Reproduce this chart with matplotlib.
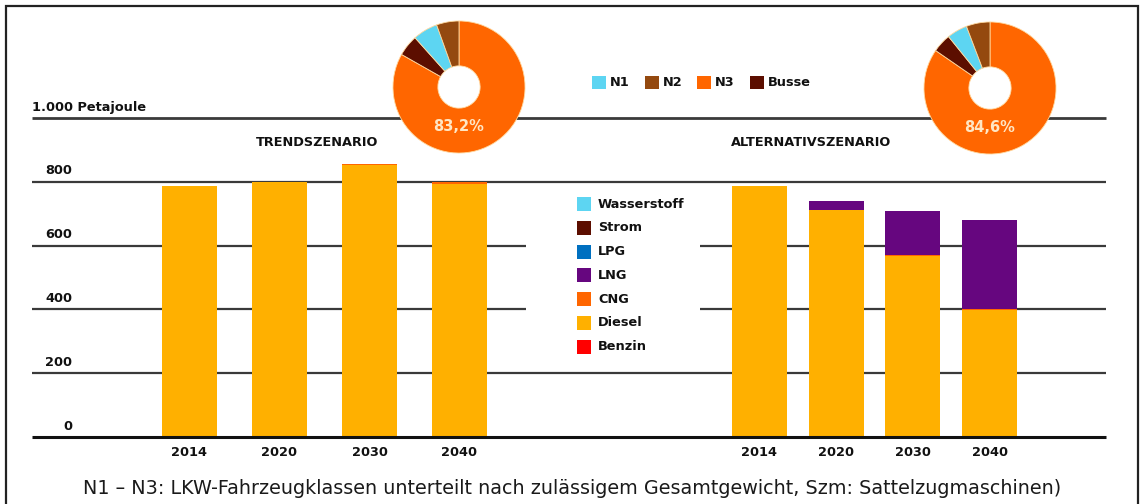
import matplotlib
matplotlib.use("Agg")
import matplotlib.pyplot as plt
from matplotlib.patches import Rectangle
import numpy as np

# ---------------- data ----------------
years = ["2014", "2020", "2030", "2040"]
fuels = ["Benzin", "Diesel", "CNG", "LNG", "LPG", "Strom", "Wasserstoff"]
fuel_colors = ["#FF0000", "#FFB000", "#FF6600", "#66067F", "#0070C0", "#5C0E00", "#5DD5F2"]

trend_benzin = [0, 0, 0, 0]
trend_diesel = [786, 799, 852, 792]
trend_cng = [0, 1, 3, 8]
trend_lng = [0, 0, 0, 0]
trend_lpg = [0, 0, 0, 0]
trend_strom = [0, 0, 0, 0]
trend_h2 = [0, 0, 0, 0]

alt_benzin = [0, 0, 0, 0]
alt_diesel = [786, 712, 568, 399]
alt_cng = [0, 0, 1, 2]
alt_lng = [0, 29, 140, 278]
alt_lpg = [0, 0, 0, 0]
alt_strom = [0, 0, 1, 2]
alt_h2 = [0, 0, 0, 0]

classes = ["N3", "Busse", "N1", "N2"]
class_colors = ["#FF6600", "#5C0E00", "#5DD5F2", "#94490F"]
trend_shares = [83.2, 5.2, 6.1, 5.5]
alt_shares = [84.6, 4.6, 5.0, 5.8]
trend_label = "83,2%"
alt_label = "84,6%"

yticks = [0, 200, 400, 600, 800]
ytick_labels = ["0", "200", "400", "600", "800"]
top_label = "1.000 Petajoule"
title_trend = "TRENDSZENARIO"
title_alt = "ALTERNATIVSZENARIO"
legend_top = ["N1", "N2", "N3", "Busse"]
legend_top_colors = ["#5DD5F2", "#94490F", "#FF6600", "#5C0E00"]
legend_right = ["Wasserstoff", "Strom", "LPG", "LNG", "CNG", "Diesel", "Benzin"]
legend_right_colors = ["#5DD5F2", "#5C0E00", "#0070C0", "#66067F", "#FF6600", "#FFB000", "#FF0000"]
caption = "N1 – N3: LKW-Fahrzeugklassen unterteilt nach zulässigem Gesamtgewicht, Szm: Sattelzugmaschinen)"

# ---------------- layout ----------------
W, H = 1144, 504
fig = plt.figure(figsize=(W / 100, H / 100), dpi=100)
BOLD = dict(family=["DejaVu Sans"], fontweight="bold")
FS = 9.3

y0_px, scale = 437.0, 0.319  # pixel of 0 PJ, px per PJ


def v(py):
    return (y0_px - py) / scale


ax = fig.add_axes([0, 0, 1, 1])
ax.set_xlim(0, W)
ax.set_ylim(v(H), v(0))
ax.axis("off")

# frame
fig.add_artist(Rectangle((6 / W, -0.05), (1138 - 6) / W, 1 - 6 / H + 0.05,
                         transform=fig.transFigure, fill=False, lw=1.6,
                         edgecolor="#222222", zorder=0))

# grid lines
line_c = "#3a3a3a"
ax.hlines(1000, 32, 1106, color=line_c, lw=2.0, zorder=1)
ax.hlines(800, 32, 1106, color=line_c, lw=1.6, zorder=1)
ax.hlines([600, 400], 32, 526, color=line_c, lw=1.6, zorder=1)
ax.hlines([600, 400], 700, 1106, color=line_c, lw=1.6, zorder=1)
ax.hlines(200, 32, 1106, color=line_c, lw=1.6, zorder=1)
ax.hlines(0, 32, 1106, color="#111111", lw=2.2, zorder=4)

# y labels
for t, lab in zip(yticks, ytick_labels):
    ax.text(72, t + 14, lab, ha="right", va="bottom", fontsize=FS, color="#111", **BOLD)
ax.text(32, 1000 + 14, top_label, ha="left", va="bottom", fontsize=FS, color="#111", **BOLD)

# bars
bar_w = 55
trend_x = 189.5 + 90 * np.arange(len(years))
alt_x = 759.5 + 76.7 * np.arange(len(years))

trend_stack = [trend_benzin, trend_diesel, trend_cng, trend_lng, trend_lpg, trend_strom, trend_h2]
alt_stack = [alt_benzin, alt_diesel, alt_cng, alt_lng, alt_lpg, alt_strom, alt_h2]

for xs, stack in ((trend_x, trend_stack), (alt_x, alt_stack)):
    bottom = np.zeros(len(years))
    for vals, col in zip(stack, fuel_colors):
        vals = np.array(vals, dtype=float)
        ax.bar(xs, vals, width=bar_w, bottom=bottom, color=col, lw=0, zorder=3)
        bottom += vals
    for x, yl in zip(xs, years):
        ax.text(x, v(453), yl, ha="center", va="center", fontsize=FS, color="#111", **BOLD)

# titles
ax.text(317, v(142), title_trend, ha="center", va="center", fontsize=FS, color="#111", **BOLD)
ax.text(811, v(142), title_alt, ha="center", va="center", fontsize=FS, color="#111", **BOLD)

# right legend (fuels)
for i, (name, col) in enumerate(zip(legend_right, legend_right_colors)):
    cy = 204 + 23.8 * i
    ax.add_patch(Rectangle((577, v(cy + 7)), 14, 14 / scale, color=col, lw=0, zorder=5))
    ax.text(598, v(cy), name, ha="left", va="center", fontsize=FS, color="#111", **BOLD)

# top legend (classes)
sq_x = [592, 645, 697, 750]
for x, name, col in zip(sq_x, legend_top, legend_top_colors):
    ax.add_patch(Rectangle((x, v(89)), 14, 13 / scale, color=col, lw=0, zorder=5))
    ax.text(x + 18, v(82.5), name, ha="left", va="center", fontsize=FS, color="#111", **BOLD)

# pies
R = 66
for cx, cy, shares, lab in ((459, 87, trend_shares, trend_label),
                            (990, 88, alt_shares, alt_label)):
    pax = fig.add_axes([(cx - R - 2) / W, 1 - (cy + R + 2) / H, (2 * R + 4) / W, (2 * R + 4) / H])
    pax.pie(shares, colors=class_colors, startangle=90, counterclock=False,
            radius=1.0, wedgeprops=dict(width=0.68, edgecolor="#FFD9A0", linewidth=0.6))
    pax.set_xlim(-1.03, 1.03)
    pax.set_ylim(-1.03, 1.03)
    pax.set_aspect("equal")
    pax.axis("off")
    pax.patch.set_alpha(0)
    pax.text(0, -0.6, lab, ha="center", va="center", fontsize=10.5, color="#FFE6C4",
             family=["DejaVu Sans"], fontweight="bold")

# caption
fig.text(572 / W, 1 - 488 / H, caption, ha="center", va="center", fontsize=13.8,
         color="#1a1a1a", family=["DejaVu Sans"])

fig.savefig("out.png", dpi=100)
